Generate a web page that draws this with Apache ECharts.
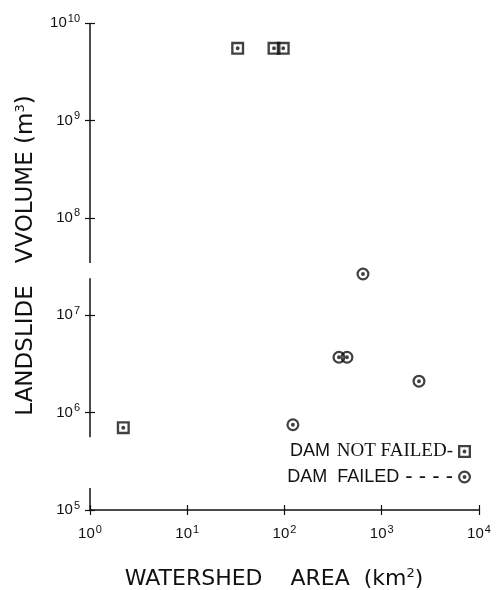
<!DOCTYPE html>
<html lang="en" style="height: 100%">
<head>
  <meta charset="utf-8">
  <title>Landslide volume vs watershed area</title>
</head>
<body style="height: 100%; margin: 0; background: #fff">
  <div id="container" style="width: 498px; height: 590px"></div>

  <script type="text/javascript" src="https://cdn.jsdelivr.net/npm/echarts@6/dist/echarts.min.js"></script>

  <script type="text/javascript">
    var dom = document.getElementById('container');
    var myChart = echarts.init(dom, null, { renderer: 'canvas' });

    // watershed area (km2) and landslide volume (m3)
    const notFailedArea = [2.2, 33, 78, 97];
    const notFailedVolume = [7e5, 5.5e9, 5.5e9, 5.5e9];
    const failedArea = [122, 363, 439, 641, 2415];
    const failedVolume = [7.5e5, 3.7e6, 3.7e6, 2.65e7, 2.1e6];
    // the y axis of the original is broken twice, null = gap
    const yAxisPieces = [1e5, 1.68e5, null, 5.6e5, 2.4e7, null, 3.44e7, 1e10];

    const ink = '#111';
    // square / circle outline with a dot in the middle
    const squareDot = 'path://M0,0H10V10H0Z M1.8,1.8V8.2H8.2V1.8Z M3.5,5A1.5,1.5 0 1,1 6.5,5A1.5,1.5 0 1,1 3.5,5Z';
    const circleDot = 'path://M0,5A5,5 0 1,1 10,5A5,5 0 1,1 0,5Z M1.7,5A3.3,3.3 0 1,0 8.3,5A3.3,3.3 0 1,0 1.7,5Z M3.5,5A1.5,1.5 0 1,1 6.5,5A1.5,1.5 0 1,1 3.5,5Z';

    function pairs(xs, ys) {
      return xs.map(function (x, i) { return [x, ys[i]]; });
    }

    const powLabel = {
      color: ink,
      fontFamily: 'Liberation Sans',
      formatter: function (v) {
        return '{b|10}{s|' + Math.round(Math.log10(v)) + '}';
      },
      rich: {
        b: { fontSize: 15, fontFamily: 'Liberation Sans', color: ink },
        s: { fontSize: 11, fontFamily: 'Liberation Sans', color: ink, padding: [0, 0, 9, 1] }
      }
    };

    const titleRich = {
      s: { fontSize: 13, fontFamily: 'DejaVu Sans', color: ink, padding: [0, 0, 11, 0] }
    };

    function xAxisCfg(inside) {
      return {
        type: 'log',
        logBase: 10,
        min: 1,
        max: 1e4,
        splitNumber: 4,
        position: 'bottom',
        splitLine: { show: false },
        axisLine: { show: !inside, lineStyle: { color: ink, width: 1.5 } },
        axisTick: { show: true, inside: inside, length: 5, lineStyle: { color: ink, width: 1.2 } },
        axisLabel: inside ? { show: false } : Object.assign({ margin: 14 }, powLabel),
        name: inside ? '' : 'WATERSHED    AREA  (km{s|2})   ',
        nameLocation: 'middle',
        nameGap: 57,
        nameTextStyle: { fontSize: 22, fontFamily: 'DejaVu Sans', color: ink, rich: titleRich }
      };
    }

    function yAxisCfg(inside) {
      return {
        type: 'log',
        logBase: 10,
        min: 1e5,
        max: 1e10,
        splitNumber: 5,
        position: 'left',
        splitLine: { show: false },
        axisLine: { show: false },
        axisTick: { show: true, inside: inside, length: 5, lineStyle: { color: ink, width: 1.2 } },
        axisLabel: inside ? { show: false } : Object.assign({ margin: 10 }, powLabel),
        name: inside ? '' : '   LANDSLIDE   VVOLUME (m{s|3})',
        nameLocation: 'middle',
        nameRotate: 90,
        nameGap: 52,
        nameTextStyle: { fontSize: 23, fontFamily: 'DejaVu Sans', color: ink, rich: titleRich }
      };
    }

    var option = {
      backgroundColor: '#fff',
      animation: false,
      grid: {
        left: 90,
        right: 19,
        top: 23,
        bottom: 80,
        containLabel: false,
        outerBoundsMode: 'none'
      },
      xAxis: [xAxisCfg(false), xAxisCfg(true)],
      yAxis: [yAxisCfg(false), yAxisCfg(true)],
      legend: {
        data: ['notFailed', 'failed'],
        orient: 'vertical',
        align: 'right',
        right: 22,
        top: 437,
        itemWidth: 13,
        itemHeight: 13,
        itemGap: 5,
        selectedMode: false,
        formatter: function (name) {
          return name === 'notFailed'
            ? '{a|DAM}  {b|NOT FAILED-}'
            : '{a|DAM  FAILED}{d| - - - -}';
        },
        textStyle: {
          color: ink,
          rich: {
            a: { fontSize: 18, fontFamily: 'Liberation Sans', color: ink },
            b: { fontSize: 19, fontFamily: 'Liberation Serif', color: ink },
            d: { fontSize: 22, fontFamily: 'Liberation Sans', color: ink }
          }
        }
      },
      series: [
        {
          name: 'yAxisLine',
          type: 'line',
          silent: true,
          symbol: 'none',
          connectNulls: false,
          lineStyle: { color: ink, width: 1.5 },
          data: yAxisPieces.map(function (v) { return [1, v == null ? '-' : v]; }),
          z: 1
        },
        {
          name: 'notFailed',
          type: 'scatter',
          symbol: squareDot,
          symbolSize: 13,
          itemStyle: { color: ink },
          data: pairs(notFailedArea, notFailedVolume)
        },
        {
          name: 'failed',
          type: 'scatter',
          symbol: circleDot,
          symbolSize: 13,
          itemStyle: { color: ink },
          data: pairs(failedArea, failedVolume)
        }
      ]
    };

    myChart.setOption(option);
    window.addEventListener('resize', myChart.resize);
  </script>
</body>
</html>
